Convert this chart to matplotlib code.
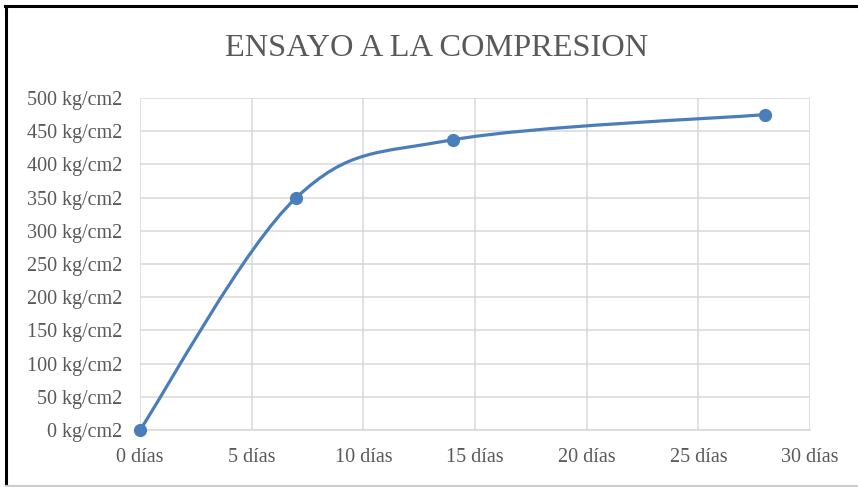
import numpy as np
import matplotlib.pyplot as plt
from matplotlib.path import Path
from matplotlib.patches import PathPatch
from matplotlib.lines import Line2D

# Resistencia a compresion segun edad del ensayo
dias = [0, 7, 14, 28]
resistencia = [0, 350, 437, 475]

x_ticks = [0, 5, 10, 15, 20, 25, 30]
y_ticks = [0, 50, 100, 150, 200, 250, 300, 350, 400, 450, 500]

azul = '#4a7ebb'
gris_texto = '#595959'
gris_rejilla = '#d9d9d9'

plt.rcParams['font.family'] = ['Liberation Serif', 'DejaVu Serif']


def curva_suave(xs, ys):
    # Bezier tipo Catmull-Rom entre puntos consecutivos (como "linea suavizada")
    p = np.column_stack([xs, ys]).astype(float)
    ext = np.vstack([p[0], p, p[-1]])
    verts = [p[0]]
    codes = [Path.MOVETO]
    for i in range(len(p) - 1):
        p0, p1, p2, p3 = ext[i], ext[i + 1], ext[i + 2], ext[i + 3]
        c1 = p1 + (p2 - p0) / 6.0
        c2 = p2 - (p3 - p1) / 6.0
        verts += [c1, c2, p2]
        codes += [Path.CURVE4] * 3
    return Path(verts, codes)


fig = plt.figure(figsize=(8.58, 4.87), dpi=100)
ax = fig.add_axes([140 / 858, 1 - 430 / 487, 670 / 858, 332 / 487])

ax.add_patch(PathPatch(curva_suave(dias, resistencia), facecolor='none',
                       edgecolor=azul, linewidth=2.3, capstyle='round', zorder=3))
ax.plot(dias, resistencia, linestyle='none', marker='o', markersize=8.5,
        color=azul, zorder=4, clip_on=False)

ax.set_xlim(0, 30)
ax.set_ylim(0, 500)
ax.set_xticks(x_ticks)
ax.set_xticklabels([f'{d} días' for d in x_ticks])
ax.set_yticks(y_ticks)
ax.set_yticklabels([f'{v} kg/cm2' for v in y_ticks])
ax.tick_params(axis='both', length=0, labelsize=14.5, colors=gris_texto)
ax.tick_params(axis='y', pad=13)
ax.tick_params(axis='x', pad=13)
ax.grid(True, color=gris_rejilla, linewidth=1.1)
ax.set_axisbelow(True)
for s in ax.spines.values():
    s.set_visible(False)
ax.spines['bottom'].set_visible(True)
ax.spines['bottom'].set_color(gris_rejilla)
ax.spines['bottom'].set_linewidth(1.1)

fig.text(437 / 858, 1 - 48 / 487, 'ENSAYO A LA COMPRESION', ha='center',
         va='center', fontsize=23.3, color=gris_texto)

# marco del grafico
fig.add_artist(Line2D([5.5 / 858, 5.5 / 858], [0, 1 - 5.5 / 487],
                      color='black', linewidth=2.2, transform=fig.transFigure))
fig.add_artist(Line2D([4.5 / 858, 1], [1 - 5.5 / 487, 1 - 5.5 / 487],
                      color='black', linewidth=2.2, transform=fig.transFigure))
fig.add_artist(Line2D([5.5 / 858, 1], [1.5 / 487, 1.5 / 487],
                      color='#cccccc', linewidth=1.5, transform=fig.transFigure))

fig.savefig('out.png', dpi=100, facecolor='white')
